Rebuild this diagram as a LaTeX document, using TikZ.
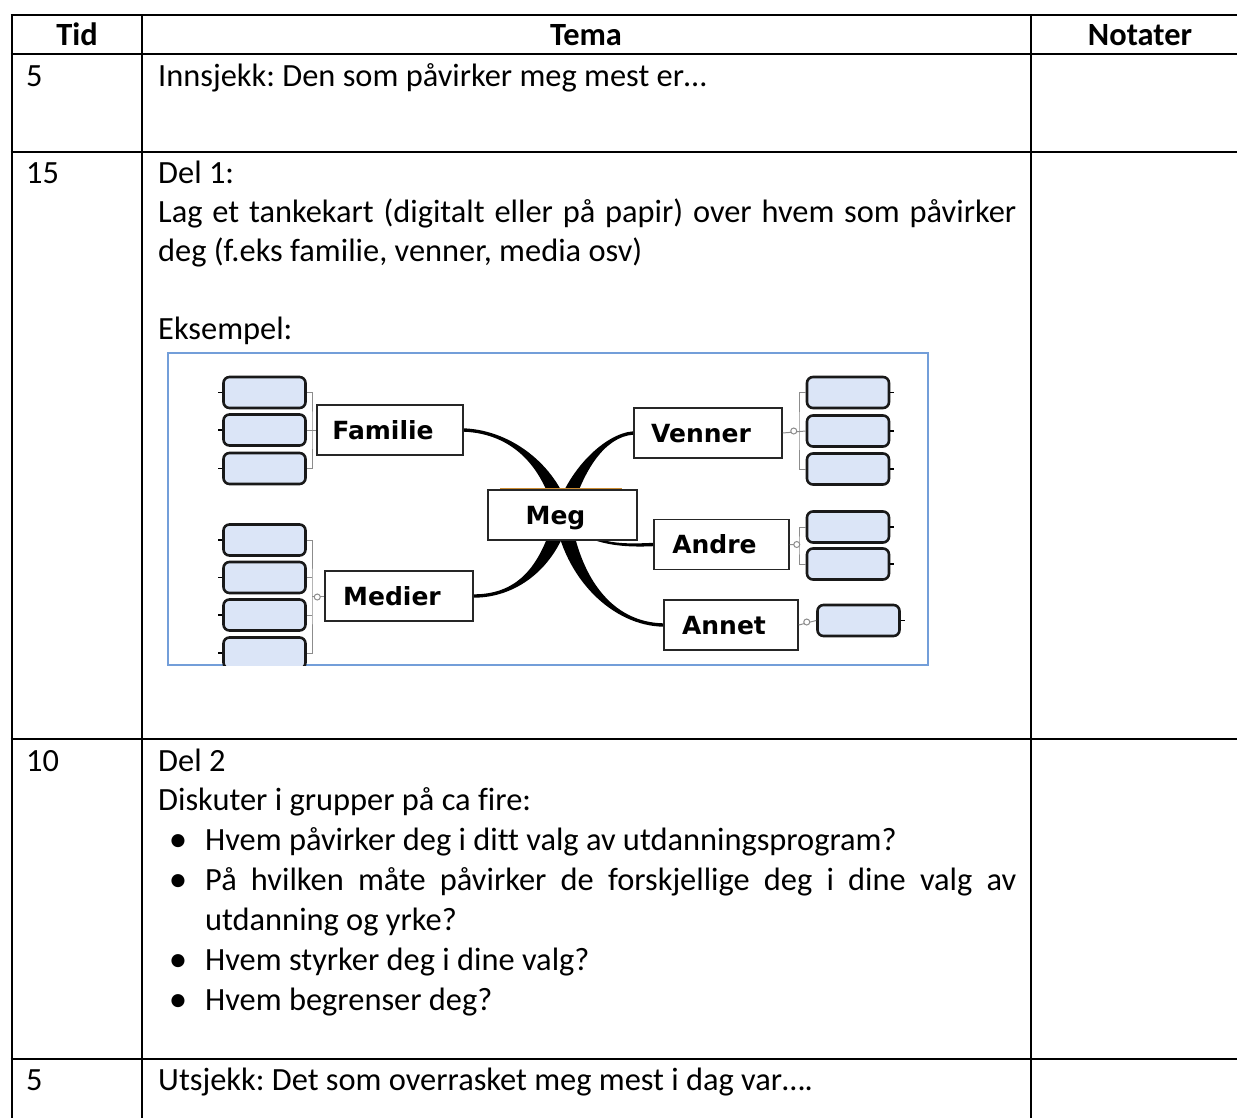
\documentclass[tikz,border=0pt]{standalone}
\usepackage{fontspec}
\setmainfont{Carlito}[Ligatures={NoCommon}]
\newfontfamily\mapfont{DejaVu Sans}
\usetikzlibrary{calc,backgrounds}
\definecolor{leafblue}{rgb}{0.86,0.90,0.97}
\definecolor{frameblue}{rgb}{0.45,0.62,0.85}
\definecolor{megorange}{rgb}{0.80,0.55,0.20}
\frenchspacing

% tapered branch: start, control 1, control 2, end, turn sign, half width at start
\newcommand{\branch}[6]{%
  \fill[black] ($(#1)+(-#6,0)$) .. controls ($(#2)+(-#6,0)$) and ($(#3)+(0,#5*1.7)$) .. ($(#4)+(0,#5*1.7)$)
    -- ($(#4)+(0,-#5*1.7)$) .. controls ($(#3)+(0,-#5*1.7)$) and ($(#2)+(#6,0)$) .. ($(#1)+(#6,0)$) -- cycle;}

\begin{document}
\begin{tikzpicture}[x=1pt, y=-1pt,
    txt/.style={anchor=base west, inner sep=0pt, font=\fontsize{32.4}{39}\selectfont},
    hdr/.style={anchor=base, inner sep=0pt, font=\fontsize{32.4}{39}\selectfont\bfseries},
    dot/.style={anchor=base, inner sep=0pt, font=\fontsize{37}{37}\selectfont},
    topic/.style={draw=black!85, line width=1.5pt, fill=white, minimum height=50pt, inner sep=0pt,
      text height=18pt, text depth=0pt, text=black, font=\mapfont\bfseries\fontsize{25}{29}\selectfont,
      execute at begin node=\hspace*{-14pt}},
    leaf/.style={draw=black!90, line width=2.6pt, rounded corners=6pt, fill=leafblue,
      minimum width=82pt, minimum height=31pt, inner sep=0pt},
    brace/.style={draw=black!45, line width=1pt}]
  \useasboundingbox (0,0) rectangle (1237,1117);

  % table
  \foreach \y in {15,54,152,739,1059} \draw[line width=2.8pt] (10.6,\y) -- (1250,\y);
  \foreach \x in {12,142,1031} \draw[line width=2.8pt] (\x,15) -- (\x,1130);

  \node[hdr] (tid) at (77,45) {Tid};
  \node[hdr] (tema) at (586,45) {Tema};
  \node[hdr] (notater) at (1140,45) {Notater};

  \node[txt] (t1) at (26,86) {5};
  \node[txt] (innsjekk) at (158,86) {Innsjekk: Den som påvirker meg mest er…};

  \node[txt] (t2) at (26,183) {15};
  \node[txt] (del1) at (158,183) {Del 1:};
  \node[txt] (lag) at (158,222) {\makebox[858pt][s]{Lag et tankekart (digitalt eller på papir) over hvem som påvirker}};
  \node[txt] (deg) at (158,261) {deg (f.eks familie, venner, media osv)};
  \node[txt] (eksempel) at (158,339) {Eksempel:};

  \node[txt] (t3) at (26,771) {10};
  \node[txt] (del2) at (158,771) {Del 2};
  \node[txt] (diskuter) at (158,810) {Diskuter i grupper på ca fire:};
  \foreach \y in {851.5,891.5,971.5,1011.5} \node[dot] at (178,\y) {•};
  \node[txt] (q1) at (205,850) {Hvem påvirker deg i ditt valg av utdanningsprogram?};
  \node[txt] (q2) at (205,890) {\makebox[811pt][s]{På hvilken måte påvirker de forskjellige deg i dine valg av}};
  \node[txt] (q2b) at (205,930) {utdanning og yrke?};
  \node[txt] (q3) at (205,970) {Hvem styrker deg i dine valg?};
  \node[txt] (q4) at (205,1010) {Hvem begrenser deg?};

  \node[txt] (t4) at (26,1090) {5};
  \node[txt] (utsjekk) at (158,1090) {Utsjekk: Det som overrasket meg mest i dag var….};

  % mind map example
  \draw[frameblue, line width=1.5pt] (168,353) rectangle (928,665);
  \begin{scope}
    \clip (168,353) rectangle (928,665);
    \node[topic, minimum width=146pt] (familie) at (390,430) {Familie};
    \node[topic, minimum width=148pt] (venner) at (708,433) {Venner};
    \node[topic, minimum width=135pt] (andre) at (721.5,544.5) {Andre};
    \node[topic, minimum width=148pt] (medier) at (399,596) {Medier};
    \node[topic, minimum width=134pt] (annet) at (731,625) {Annet};
    \draw[megorange, line width=1.2pt] (500,489) -- (622,489);
    \node[topic, minimum width=149pt] (meg) at (562.5,515) {Meg};

    \foreach \i/\y in {1/392.5,2/430,3/468.5} \node[leaf] (fam\i) at (264.5,\y) {};
    \foreach \i/\y in {1/540,2/577.5,3/615,4/653} \node[leaf] (med\i) at (264.5,\y) {};
    \foreach \i/\y in {1/392.5,2/431,3/469} \node[leaf] (ven\i) at (848,\y) {};
    \foreach \i/\y in {1/527,2/564} \node[leaf] (and\i) at (848,\y) {};
    \node[leaf] (ann1) at (858.5,620.5) {};

    \foreach \n in {fam1,fam2,fam3,med1,med2,med3,med4} \draw[line width=1.2pt] (\n.west) -- ++(-4,0);
    \foreach \n in {ven1,ven2,ven3,and1,and2,ann1} \draw[line width=1.2pt] (\n.east) -- ++(4,0);

    \coordinate (famjoin) at (312,430);
    \draw[brace] (fam1.east) -| (famjoin) |- (fam3.east);
    \draw[brace] (fam2.east) -- (familie.west);

    \coordinate (medjoin) at (312,596);
    \draw[brace] (med1.east) -| (medjoin) |- (med4.east);
    \foreach \n in {med2,med3} \draw[brace] (\n.east) -- (\n.east -| medjoin);
    \draw[brace] (medjoin) -- (medier.west);
    \draw[brace, fill=white] ($(medier.west)+(-7,1)$) circle (3pt);

    \coordinate (venjoin) at (799,431);
    \draw[brace] (ven1.west) -| (venjoin) |- (ven3.west);
    \draw[brace] (ven2.west) -- (venner.east);
    \draw[brace, fill=white] ($(venner.east)+(11,-2)$) circle (3pt);

    \coordinate (andjoin) at (799,545);
    \draw[brace] (and1.west) -| (andjoin) |- (and2.west);
    \draw[brace] (andjoin) -- (andre.east);
    \draw[brace, fill=white] ($(andre.east)+(7,0)$) circle (3pt);

    \draw[brace] (annet.east) -- (ann1.west);
    \draw[brace, fill=white] ($(annet.east)+(8,-3)$) circle (3pt);
  \end{scope}

  \begin{pgfonlayer}{background}
    \fill[white] (0,0) rectangle (1237,1117);
    \branch{meg.center}{552,470}{515,432}{familie.east}{1}{8}
    \branch{meg.center}{575,470}{605,435}{venner.west}{-1}{8}
    \branch{meg.center}{548,570}{515,596}{medier.east}{-1}{8}
    \branch{meg.center}{572,578}{612,624}{annet.west}{1}{8}
    \branch{meg.center}{585,545}{620,546}{andre.west}{1}{3.5}
  \end{pgfonlayer}
\end{tikzpicture}
\end{document}
